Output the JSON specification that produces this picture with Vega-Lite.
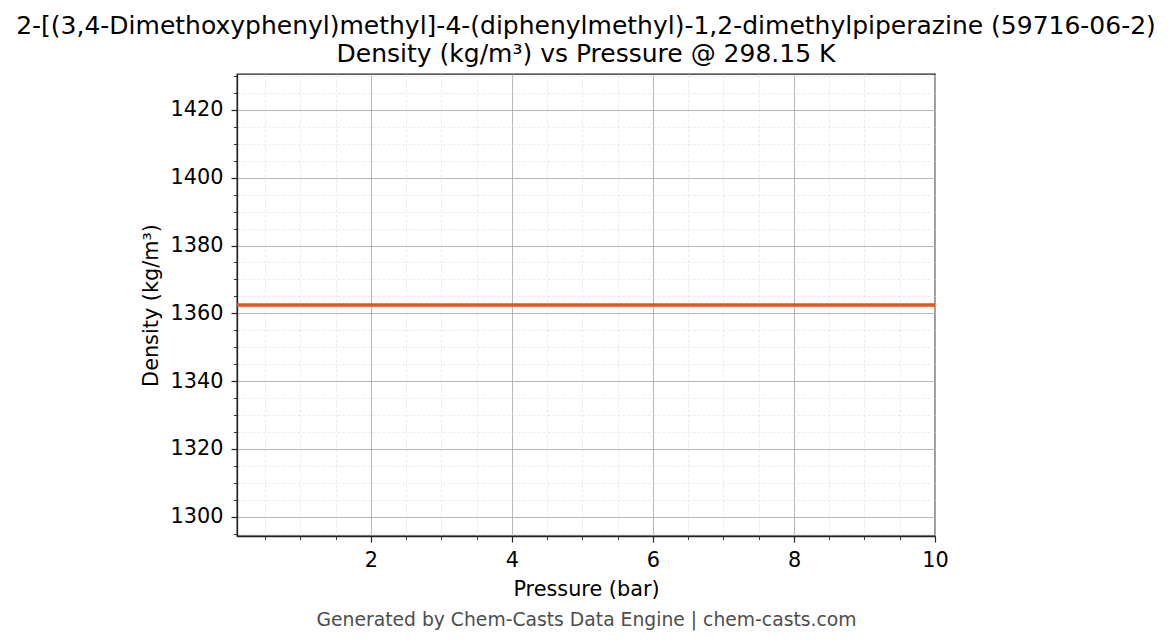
{
  "$schema": "https://vega.github.io/schema/vega-lite/v6.json",
  "width": 698,
  "height": 462,
  "autosize": {"type": "none"},
  "padding": {"left": 237, "top": 74, "right": 236, "bottom": 108},
  "background": "white",
  "config": {
    "font": "DejaVu Sans",
    "view": {"stroke": "#222222", "strokeWidth": 1.3}
  },
  "title": {
    "text": ["2-[(3,4-Dimethoxyphenyl)methyl]-4-(diphenylmethyl)-1,2-dimethylpiperazine (59716-06-2)", "Density (kg/m³) vs Pressure @ 298.15 K"],
    "fontSize": 25,
    "fontWeight": "normal",
    "color": "black",
    "font": "DejaVu Sans",
    "anchor": "middle",
    "offset": -2,
    "lineHeight": 28
  },
  "data": {
    "values": [
      {"Pressure": 0.1, "Density": 1362.45},
      {"Pressure": 1, "Density": 1362.45},
      {"Pressure": 2, "Density": 1362.45},
      {"Pressure": 3, "Density": 1362.45},
      {"Pressure": 4, "Density": 1362.45},
      {"Pressure": 5, "Density": 1362.45},
      {"Pressure": 6, "Density": 1362.45},
      {"Pressure": 7, "Density": 1362.45},
      {"Pressure": 8, "Density": 1362.45},
      {"Pressure": 9, "Density": 1362.45},
      {"Pressure": 10, "Density": 1362.45}
    ]
  },
  "layer": [
    {
      "mark": {"type": "line", "color": "#e0561f", "strokeWidth": 3.5, "clip": true},
      "encoding": {
        "x": {
          "field": "Pressure",
          "type": "quantitative",
          "scale": {"domain": [0.1, 10], "nice": false, "zero": false},
          "axis": {
            "title": "Pressure (bar)",
            "titleFontSize": 20.8,
            "titleFontWeight": "normal",
            "titleColor": "black",
            "titlePadding": 10,
            "values": [0.5,1,1.5,2,2.5,3,3.5,4,4.5,5,5.5,6,6.5,7,7.5,8,8.5,9,9.5,10],
            "format": "~g",
            "labelExpr": "datum.value % 2 === 0 ? datum.label : ''",
            "labelFontSize": 20.8,
            "labelColor": "black",
            "labelPadding": 8,
            "labelFlush": false,
            "labelOverlap": false,
            "domainColor": "#222222",
            "domainWidth": 1.3,
            "tickColor": "#222222",
            "tickSize": {"condition": {"test": "datum.value % 2 === 0", "value": 6}, "value": 3.5},
            "tickWidth": {"condition": {"test": "datum.value % 2 === 0", "value": 1.2}, "value": 0.9},
            "grid": true,
            "gridColor": {"condition": {"test": "datum.value % 2 === 0", "value": "#b0b0b0"}, "value": "#dedede"},
            "gridWidth": {"condition": {"test": "datum.value % 2 === 0", "value": 0.9}, "value": 0.6},
            "gridDash": {"condition": {"test": "datum.value % 2 === 0", "value": []}, "value": [3, 2]}
          }
        },
        "y": {
          "field": "Density",
          "type": "quantitative",
          "scale": {"domain": [1294.3, 1430.6], "nice": false, "zero": false},
          "axis": {
            "title": "Density (kg/m³)",
            "titleFontSize": 20.8,
            "titleFontWeight": "normal",
            "titleColor": "black",
            "titlePadding": 9,
            "values": [1295,1300,1305,1310,1315,1320,1325,1330,1335,1340,1345,1350,1355,1360,1365,1370,1375,1380,1385,1390,1395,1400,1405,1410,1415,1420,1425,1430],
            "format": "d",
            "labelExpr": "datum.value % 20 === 0 ? datum.label : ''",
            "labelFontSize": 20.8,
            "labelColor": "black",
            "labelPadding": 8,
            "labelOverlap": false,
            "labelFlush": false,
            "domainColor": "#222222",
            "domainWidth": 1.3,
            "tickColor": "#222222",
            "tickSize": {"condition": {"test": "datum.value % 20 === 0", "value": 6}, "value": 3.5},
            "tickWidth": {"condition": {"test": "datum.value % 20 === 0", "value": 1.2}, "value": 0.9},
            "grid": true,
            "gridColor": {"condition": {"test": "datum.value % 20 === 0", "value": "#b0b0b0"}, "value": "#dedede"},
            "gridWidth": {"condition": {"test": "datum.value % 20 === 0", "value": 0.9}, "value": 0.6},
            "gridDash": {"condition": {"test": "datum.value % 20 === 0", "value": []}, "value": [3, 2]}
          }
        }
      }
    },
    {
      "mark": {"type": "rule", "opacity": 0},
      "encoding": {
        "x": {
          "field": "Pressure",
          "type": "quantitative",
          "axis": {
            "orient": "bottom",
            "offset": 74,
            "title": "Generated by Chem-Casts Data Engine | chem-casts.com",
            "titleFontSize": 18.75,
            "titleFontWeight": "normal",
            "titleColor": "#4d4d4d",
            "labels": false,
            "ticks": false,
            "domain": false,
            "grid": false,
            "titlePadding": 0
          }
        }
      }
    }
  ],
  "resolve": {"scale": {"x": "independent"}, "axis": {"x": "independent"}}
}
